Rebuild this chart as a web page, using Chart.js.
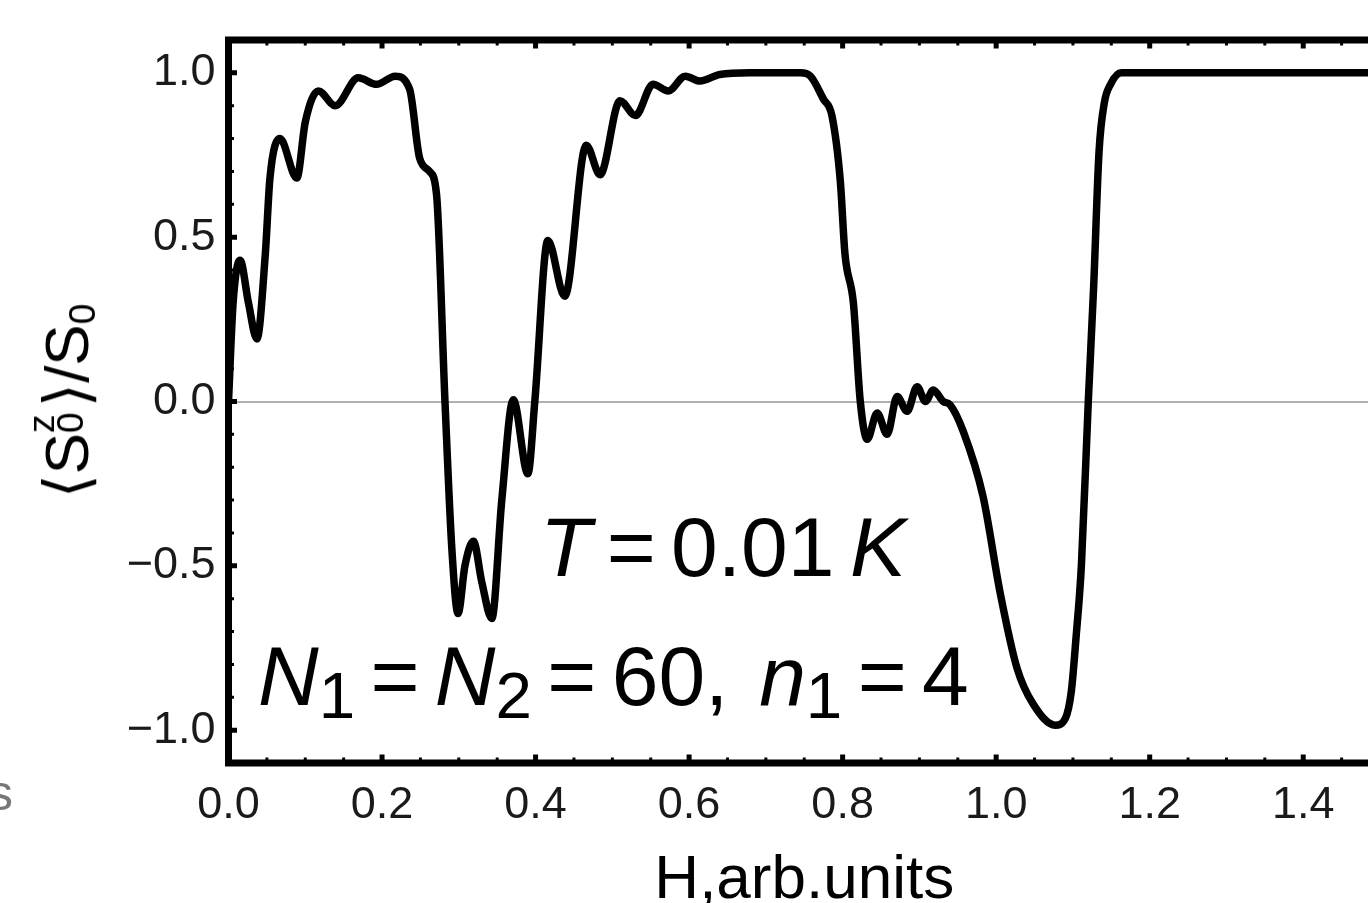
<!DOCTYPE html>
<html>
<head>
<meta charset="utf-8">
<script src="https://cdn.jsdelivr.net/npm/chart.js@4.4.1/dist/chart.umd.min.js"></script>
<style>
  html, body { margin:0; padding:0; overflow:hidden; background:#fff; }
  #wrap { position:relative; width:1400px; height:903px; }
  .ann { position:absolute; font-family:'Liberation Sans', Arial, sans-serif; color:#000; white-space:nowrap; line-height:1; }
  .sb { font-size:0.78em; position:relative; top:0.2em; }
  #t1 { left:540px; top:505px; font-size:84px; word-spacing:-8px; }
  #t2 { left:258px; top:634px; font-size:84px; word-spacing:-8px; }
  #ytitle { left:62px; top:401px; font-size:62px; transform:translate(-50%,-50%) rotate(-90deg); }
  .stack { display:inline-block; position:relative; width:0.42em; height:1em; }
  .stack .sp { position:absolute; left:0; top:-0.09em; font-size:0.6em; line-height:1; }
  .stack .s0 { position:absolute; left:0; top:0.7em; font-size:0.6em; line-height:1; }
  .ys { font-size:0.6em; position:relative; top:0.2em; }
  #frag { left:-12px; top:768px; font-size:50px; color:#777; }
</style>
</head>
<body>
<div id="wrap">
  <canvas id="c"></canvas>
  <div class="ann" id="t1"><i>T</i> = 0.01 <i>K</i></div>
  <div class="ann" id="t2"><i>N</i><span class="sb">1</span> = <i>N</i><span class="sb">2</span> = 60,&nbsp; <i>n</i><span class="sb">1</span> = 4</div>
  <div class="ann" id="ytitle">⟨S<span class="stack"><span class="sp">z</span><span class="s0">0</span></span>⟩/S<span class="ys">0</span></div>
  <div class="ann" id="frag">s</div>
</div>
<script>
// ---- data ----
const hValues = [0, 0.006, 0.015, 0.026, 0.037, 0.048, 0.054, 0.067, 0.089, 0.100, 0.117, 0.139, 0.169, 0.193, 0.217, 0.236, 0.249, 0.262, 0.271, 0.282, 0.291, 0.299, 0.308, 0.319, 0.330, 0.343, 0.356, 0.371, 0.390, 0.399, 0.416, 0.438, 0.466, 0.484, 0.510, 0.530, 0.553, 0.573, 0.595, 0.614, 0.640, 0.679, 0.745, 0.758, 0.775, 0.786, 0.797, 0.803, 0.814, 0.823, 0.832, 0.845, 0.858, 0.871, 0.884, 0.897, 0.908, 0.918, 0.931, 0.940, 0.957, 0.983, 1.005, 1.027, 1.048, 1.077, 1.090, 1.098, 1.104, 1.111, 1.120, 1.127, 1.134, 1.141, 1.149, 1.163, 1.5];
const szValues = [0.0, 0.30, 0.43, 0.30, 0.19, 0.45, 0.68, 0.80, 0.68, 0.85, 0.945, 0.90, 0.985, 0.965, 0.99, 0.95, 0.74, 0.70, 0.63, 0.0, -0.45, -0.645, -0.50, -0.425, -0.55, -0.66, -0.30, 0.005, -0.22, 0.0, 0.49, 0.32, 0.78, 0.69, 0.915, 0.87, 0.965, 0.945, 0.99, 0.975, 0.995, 1.0, 1.0, 0.99, 0.92, 0.87, 0.67, 0.45, 0.30, 0.0, -0.115, -0.035, -0.10, 0.015, -0.03, 0.045, 0.0, 0.035, 0.0, -0.01, -0.09, -0.29, -0.58, -0.81, -0.92, -0.985, -0.965, -0.88, -0.72, -0.50, 0.0, 0.35, 0.76, 0.91, 0.965, 1.0, 1.0];
const xTickLabels = [0.0, 0.2, 0.4, 0.6, 0.8, 1.0, 1.2, 1.4];
const yTickLabels = [-1.0, -0.5, 0.0, 0.5, 1.0];

const points = hValues.map((h, i) => ({x: h, y: szValues[i]}));
const fmt = v => v.toFixed(1).replace('-', '\u2212');

const frameTicks = {
  id: 'frameTicks',
  afterDatasetsDraw(chart) {
    const {ctx, chartArea: a, scales: {x, y}} = chart;
    const fw = 7;
    ctx.save();
    ctx.strokeStyle = '#000';
    function tx(v, len, w) {
      const p = x.getPixelForValue(v);
      ctx.lineWidth = w;
      ctx.beginPath();
      ctx.moveTo(p, a.bottom); ctx.lineTo(p, a.bottom - fw / 2 - len);
      ctx.moveTo(p, a.top); ctx.lineTo(p, a.top + fw / 2 + len);
      ctx.stroke();
    }
    function ty(v, len, w) {
      const p = y.getPixelForValue(v);
      ctx.lineWidth = w;
      ctx.beginPath();
      ctx.moveTo(a.left, p); ctx.lineTo(a.left + fw / 2 + len, p);
      ctx.moveTo(a.right, p); ctx.lineTo(a.right - fw / 2 - len, p);
      ctx.stroke();
    }
    for (let k = 0; k <= 30; k++) { const v = k * 0.05; if (k % 4) tx(v, 2, 3); }
    xTickLabels.forEach(v => tx(v, 5, 5));
    for (let k = -11; k <= 11; k++) { if (k % 5) ty(k / 10, 2, 3); }
    yTickLabels.forEach(v => ty(v, 5, 5));
    ctx.lineWidth = fw;
    ctx.strokeRect(a.left, a.top, a.right - a.left, a.bottom - a.top);
    ctx.restore();
  }
};

new Chart(document.getElementById('c'), {
  type: 'line',
  data: {
    datasets: [{
      data: points,
      borderColor: '#000',
      borderWidth: 7.5,
      pointRadius: 0,
      cubicInterpolationMode: 'monotone',
      borderJoinStyle: 'round',
      borderCapStyle: 'round',
      fill: false
    }]
  },
  options: {
    responsive: true,
    maintainAspectRatio: false,
    animation: false,
    layout: { padding: { top: 37, right: 20, bottom: 0, left: 0 } },
    plugins: { legend: { display: false }, tooltip: { enabled: false } },
    scales: {
      x: {
        type: 'linear', min: 0, max: 1.5,
        afterFit(s) { s.height = 140; },
        afterBuildTicks(s) { s.ticks = xTickLabels.map(v => ({value: v})); },
        grid: { display: false, drawTicks: false },
        border: { display: false },
        ticks: {
          padding: 16, maxRotation: 0, autoSkip: false,
          color: '#1a1a1a',
          font: { family: "'Liberation Sans', Arial, sans-serif", size: 45 },
          callback: v => fmt(v)
        },
        title: {
          display: true, text: 'H,arb.units', color: '#000',
          font: { family: "'Liberation Sans', Arial, sans-serif", size: 62, lineHeight: 0.8 },
          padding: { top: 0, bottom: -3 }
        }
      },
      y: {
        type: 'linear', min: -1.1, max: 1.1,
        afterFit(s) { s.width = 228.5; },
        afterBuildTicks(s) { s.ticks = yTickLabels.map(v => ({value: v})); },
        grid: {
          drawTicks: false,
          lineWidth: 2,
          color: c => (c.tick && c.tick.value === 0) ? '#b0b0b0' : 'rgba(0,0,0,0)'
        },
        border: { display: false },
        ticks: {
          padding: 13, autoSkip: false,
          color: '#1a1a1a',
          font: { family: "'Liberation Sans', Arial, sans-serif", size: 45 },
          callback: v => fmt(v)
        }
      }
    }
  },
  plugins: [frameTicks]
});
</script>
</body>
</html>
